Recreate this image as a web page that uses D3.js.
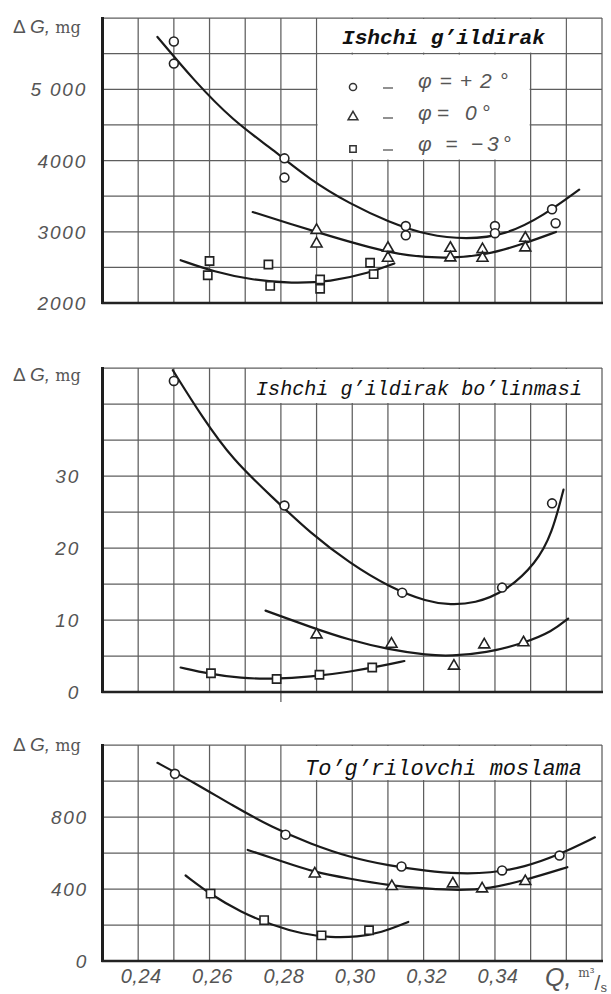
<!DOCTYPE html>
<html><head><meta charset="utf-8">
<script src="https://cdn.jsdelivr.net/npm/d3@7"></script>
<style>body{margin:0;background:#fff}svg{display:block}</style>
</head><body>
<svg id="c" width="611" height="994"></svg>
<script>
// ---------- DATA ----------
const xTickValues = [0.24, 0.26, 0.28, 0.30, 0.32, 0.34];
const xTickLabels = ["0,24", "0,26", "0,28", "0,30", "0,32", "0,34"];
const panelTitles = ["Ishchi g\u2019ildirak", "Ishchi g\u2019ildirak bo\u2019linmasi", "To\u2019g\u2019rilovchi moslama"];
const legendLabels = ["\u03C6=+2\u00B0", "\u03C6= 0\u00B0", "\u03C6 = \u22123\u00B0"];

const topYDomain = [2000, 6000];
const topYTicks = [2000, 3000, 4000, 5000];
const topYLabels = ["2000", "3000", "4000", "5 000"];
const midYDomain = [0, 45];
const midYTicks = [0, 10, 20, 30];
const midYLabels = ["0", "10", "20", "30"];
const botYDomain = [0, 1200];
const botYTicks = [0, 400, 800];
const botYLabels = ["0", "400", "800"];

// Panel 1: Ishchi g'ildirak
const topCircle = [[0.250,5670],[0.250,5360],[0.281,4030],[0.281,3760],[0.315,3080],[0.315,2950],[0.340,3080],[0.340,2980],[0.356,3315],[0.357,3120]];
const topTri = [[0.290,3035],[0.290,2845],[0.310,2785],[0.310,2645],[0.3275,2785],[0.3275,2650],[0.3365,2765],[0.3365,2645],[0.3485,2925],[0.3485,2790]];
const topSq = [[0.260,2590],[0.2595,2390],[0.2765,2540],[0.277,2240],[0.291,2330],[0.291,2200],[0.305,2565],[0.306,2405]];
const topCircleCurve = [[0.2454,5734],[0.2557,5119],[0.2666,4559],[0.2775,4163],[0.2884,3720],[0.2993,3394],[0.3102,3137],[0.3211,2951],[0.3320,2891],[0.3429,2951],[0.3538,3231],[0.3636,3590]];
const topTriCurve = [[0.2721,3277],[0.2830,3105],[0.2939,2937],[0.3048,2779],[0.3157,2657],[0.3266,2625],[0.3375,2671],[0.3483,2835],[0.3571,2997]];
const topSqCurve = [[0.2519,2601],[0.2612,2438],[0.2721,2322],[0.2830,2275],[0.2939,2298],[0.3048,2424],[0.3118,2555]];

// Panel 2: Ishchi g'ildirak bo'linmasi
const midCircle = [[0.250,43.2],[0.281,25.9],[0.314,13.8],[0.342,14.5],[0.356,26.2]];
const midTri = [[0.290,8.1],[0.311,6.8],[0.3285,3.75],[0.337,6.7],[0.348,7.0]];
const midSq = [[0.2604,2.6],[0.2788,1.8],[0.2908,2.4],[0.3056,3.4]];
const midCircleCurve = [[0.2497,44.7],[0.2579,38.2],[0.2666,32.2],[0.2775,27.1],[0.2884,22.0],[0.2993,17.9],[0.3102,14.6],[0.3211,12.5],[0.3276,12.1],[0.3342,12.3],[0.3429,13.9],[0.3516,17.9],[0.3560,22.0],[0.3592,28.1]];
const midTriCurve = [[0.2757,11.3],[0.2884,9.0],[0.2993,7.2],[0.3102,5.9],[0.3211,5.1],[0.3276,5.0],[0.3374,5.4],[0.3483,6.8],[0.3560,8.4],[0.3605,10.2]];
const midSqCurve = [[0.2519,3.4],[0.2601,2.5],[0.2688,1.9],[0.2775,1.8],[0.2884,2.1],[0.2993,2.8],[0.3080,3.6],[0.3146,4.3]];

// Panel 3: To'g'rilovchi moslama
const botCircle = [[0.2503,1040],[0.2813,702],[0.3138,525],[0.342,503],[0.3581,586]];
const botTri = [[0.2895,490],[0.3111,420],[0.3282,435],[0.3364,407],[0.3485,448]];
const botSq = [[0.2603,374],[0.2753,227],[0.2914,142],[0.3047,171]];
const botCircleCurve = [[0.2454,1101],[0.2557,991],[0.2666,862],[0.2775,742],[0.2884,650],[0.2993,576],[0.3102,530],[0.3211,499],[0.3298,485],[0.3385,488],[0.3483,521],[0.3581,591],[0.3680,687]];
const botTriCurve = [[0.2707,617],[0.2797,558],[0.2894,493],[0.2993,457],[0.3102,420],[0.3211,402],[0.3298,392],[0.3385,402],[0.3483,448],[0.3603,521]];
const botSqCurve = [[0.2533,475],[0.2606,365],[0.2688,272],[0.2775,199],[0.2862,149],[0.2939,131],[0.3015,134],[0.3080,156],[0.3157,217]];

// ---------- DRAWING ----------
const svg = d3.select("#c");
const x = d3.scaleLinear().domain([0.23, 0.37]).range([102.5, 602]);
const gridX = d3.range(24, 38).map(d => d / 100);
const GRID = "#5e5e5e", INK = "#1a1a1a", HAND = "#555";
const HANDFONT = "'Liberation Sans', Arial, sans-serif";
const MONO = "'Liberation Mono', 'DejaVu Sans Mono', monospace";

const panels = [
  {y: d3.scaleLinear().domain(topYDomain).range([303, 18]), step: 500,
   ticks: topYTicks, labels: topYLabels, labelX: 87, unitBase: 33,
   title: panelTitles[0], titleX: 342, titleBase: 44, titleSize: 21, titleLen: 203, titleWeight: "bold",
   boxes: [[0.29, 0.36, 5500, 6000], [0.29, 0.35, 4000, 5500]],
   pts: [topCircle, topTri, topSq], curves: [topCircleCurve, topTriCurve, topSqCurve]},
  {y: d3.scaleLinear().domain(midYDomain).range([692, 368]), step: 5,
   ticks: midYTicks, labels: midYLabels, labelX: 80, unitBase: 381,
   title: panelTitles[1], titleX: 256, titleBase: 395, titleSize: 20, titleLen: 326, titleWeight: "normal",
   boxes: [[0.27, 0.37, 40, 45]], ext: 0.28,
   pts: [midCircle, midTri, midSq], curves: [midCircleCurve, midTriCurve, midSqCurve]},
  {y: d3.scaleLinear().domain(botYDomain).range([961, 745]), step: 200,
   ticks: botYTicks, labels: botYLabels, labelX: 88, unitBase: 751,
   title: panelTitles[2], titleX: 305, titleBase: 775, titleSize: 22, titleLen: 277, titleWeight: "normal",
   boxes: [[0.28, 0.37, 1000, 1200]],
   pts: [botCircle, botTri, botSq], curves: [botCircleCurve, botTriCurve, botSqCurve]}
];

const line = d3.line().curve(d3.curveBasis);

panels.forEach(p => {
  const y = p.y;
  const g = svg.append("g");
  const [y0, y1] = y.domain();
  // vertical grid
  g.selectAll(".vg").data(gridX).join("line")
    .attr("x1", d => x(d)).attr("x2", d => x(d))
    .attr("y1", y(y1)).attr("y2", d => (p.ext && Math.abs(d - p.ext) < 1e-6) ? y(y0) + 10 : y(y0))
    .attr("stroke", GRID).attr("stroke-width", 1.25);
  // horizontal grid
  const hv = d3.range(y0 + p.step, y1 + p.step / 2, p.step);
  g.selectAll(".hg").data(hv).join("line")
    .attr("x1", x(0.23)).attr("x2", x(0.37))
    .attr("y1", d => y(d)).attr("y2", d => y(d))
    .attr("stroke", GRID).attr("stroke-width", 1.25);
  // white boxes (title / legend)
  g.selectAll(".bx").data(p.boxes).join("rect")
    .attr("x", d => x(d[0]) + 1).attr("width", d => x(d[1]) - x(d[0]) - 2)
    .attr("y", d => y(d[3]) + 1).attr("height", d => y(d[2]) - y(d[3]) - 2)
    .attr("fill", "#fff");
  // axes
  g.append("line").attr("x1", x(0.23)).attr("x2", x(0.23)).attr("y1", y(y1) - 1).attr("y2", y(y0) + 1)
    .attr("stroke", "#1e1e1e").attr("stroke-width", 3);
  g.append("line").attr("x1", x(0.23) - 1).attr("x2", x(0.37) + 1).attr("y1", y(y0)).attr("y2", y(y0))
    .attr("stroke", "#222").attr("stroke-width", 2.6);
  // curves
  g.selectAll(".cv").data(p.curves).join("path")
    .attr("d", d => line(d.map(v => [x(v[0]), y(v[1])])))
    .attr("fill", "none").attr("stroke", INK).attr("stroke-width", 2.2).attr("stroke-linecap", "round");
  // markers
  const mk = [d3.symbolCircle, d3.symbolTriangle, d3.symbolSquare];
  const ms = [62, 52, 68];
  p.pts.forEach((arr, i) => {
    g.selectAll(".m" + i).data(arr).join("path")
      .attr("transform", d => `translate(${x(d[0])},${y(d[1]) + (i === 1 ? 1 : 0)})`)
      .attr("d", d3.symbol().type(mk[i]).size(ms[i]))
      .attr("fill", "#fff").attr("stroke", "#222").attr("stroke-width", 1.6);
  });
  // y tick labels
  g.selectAll(".yl").data(p.ticks).join("text")
    .attr("x", p.labelX).attr("y", d => y(d) + 7)
    .attr("text-anchor", "end").attr("font-family", HANDFONT).attr("font-style", "italic")
    .attr("font-size", 19).attr("letter-spacing", 1.8).attr("fill", HAND)
    .text((d, i) => p.labels[i]);
  // unit label
  const u = g.append("text").attr("x", 13).attr("y", p.unitBase)
    .attr("font-family", HANDFONT).attr("fill", HAND).attr("font-size", 19);
  u.append("tspan").text("\u0394 ");
  u.append("tspan").attr("font-style", "italic").text("G, ");
  u.append("tspan").attr("font-size", 16).attr("font-family", "'DejaVu Serif', serif").text("mg");
  // title
  g.append("text").attr("x", p.titleX).attr("y", p.titleBase)
    .attr("font-family", MONO).attr("font-style", "italic").attr("font-weight", p.titleWeight)
    .attr("font-size", p.titleSize).attr("fill", "#111")
    .attr("textLength", p.titleLen).attr("lengthAdjust", "spacingAndGlyphs")
    .text(p.title);
});

// legend in top panel
const leg = svg.append("g");
const legY = [87, 117, 149];
const legBase = [88, 120, 151];
const legLen = [90, 72, 93];
const legTypes = [d3.symbolCircle, d3.symbolTriangle, d3.symbolSquare];
const legSizes = [40, 42, 40];
legendLabels.forEach((lab, i) => {
  leg.append("path").attr("transform", `translate(353,${legY[i]})`)
    .attr("d", d3.symbol().type(legTypes[i]).size(legSizes[i]))
    .attr("fill", "#fff").attr("stroke", "#333").attr("stroke-width", 1.5);
  leg.append("line").attr("x1", 383).attr("x2", 393).attr("y1", legY[i] + 1).attr("y2", legY[i] + 1)
    .attr("stroke", HAND).attr("stroke-width", 1.3);
  leg.append("text").attr("x", 418).attr("y", legBase[i])
    .attr("font-family", HANDFONT).attr("font-style", "italic").attr("font-size", 21)
    .attr("fill", HAND).attr("textLength", legLen[i]).attr("lengthAdjust", "spacing")
    .text(lab);
});

// x tick labels (bottom panel)
svg.append("g").selectAll("text").data(xTickValues).join("text")
  .attr("x", d => x(d) + 3).attr("y", 983)
  .attr("text-anchor", "middle").attr("font-family", HANDFONT).attr("font-style", "italic")
  .attr("font-size", 20).attr("letter-spacing", 0.5).attr("fill", HAND)
  .text((d, i) => xTickLabels[i]);

// Q, m3/s  (one text element with shifted tspans)
const q = svg.append("text").attr("x", 545).attr("y", 986).attr("fill", HAND).attr("font-family", HANDFONT);
q.append("tspan").attr("font-size", 25).attr("font-style", "italic").text("Q, ");
q.append("tspan").attr("font-size", 12).attr("font-family", "'DejaVu Serif', serif").attr("dy", -9).text("m\u00B3");
q.append("tspan").attr("font-size", 21).attr("dy", 13).text("/");
q.append("tspan").attr("font-size", 13).attr("font-family", "'DejaVu Serif', serif").attr("dy", 2).text("s");
</script>
</body></html>
